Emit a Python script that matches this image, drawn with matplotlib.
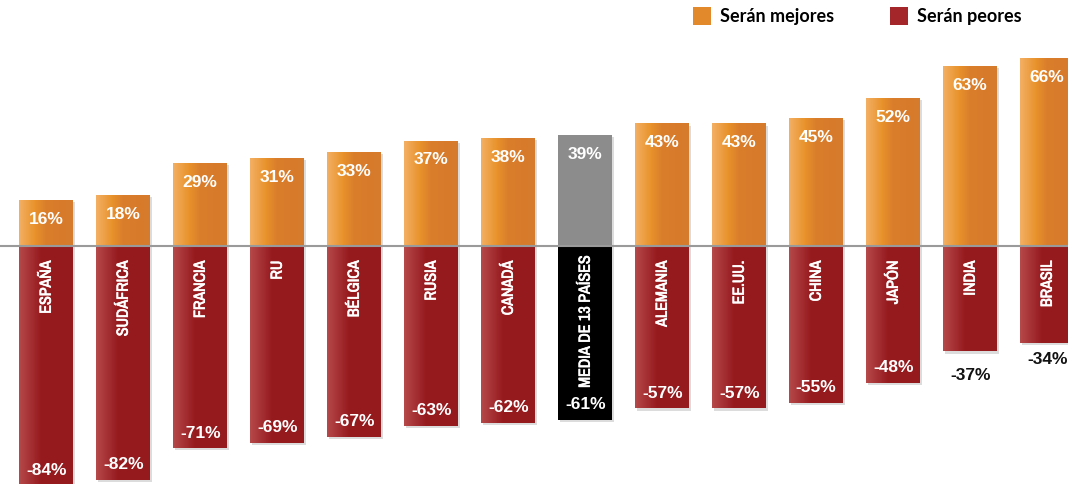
import numpy as np
import matplotlib.pyplot as plt
from matplotlib import font_manager as fm
from matplotlib.colors import LinearSegmentedColormap
from matplotlib.patches import Patch
import matplotlib.patheffects as pe

paises = ["ESPAÑA", "SUDÁFRICA", "FRANCIA", "RU", "BÉLGICA", "RUSIA", "CANADÁ",
          "MEDIA DE 13 PAÍSES", "ALEMANIA", "EE.UU.", "CHINA", "JAPÓN", "INDIA", "BRASIL"]
mejores = [16, 18, 29, 31, 33, 37, 38, 39, 43, 43, 45, 52, 63, 66]
peores = [-84, -82, -71, -69, -67, -63, -62, -61, -57, -57, -55, -48, -37, -34]
media_idx = 7

# buscar una fuente estrecha para los nombres de países
fuentes = fm.fontManager.ttflist
estrechas = sorted({f.name for f in fuentes if "Condensed" in f.name or "Narrow" in f.name})
efecto_pais = None
if estrechas:
    nombre = estrechas[0]
    hay_negrita = any(f.name == nombre and f.weight in ("bold", 700, "heavy", 800, 600, "semibold")
                      for f in fuentes)
    fuente_pais = dict(family=[nombre, "DejaVu Sans"], fontweight="bold", fontsize=11.5)
    if not hay_negrita:
        efecto_pais = [pe.withStroke(linewidth=0.5, foreground="white")]
else:
    fuente_pais = dict(family=["Roboto", "DejaVu Sans"], fontweight="bold", fontsize=10.5)

naranja = LinearSegmentedColormap.from_list(
    "nar", [(0, "#F3B063"), (0.3, "#E8922A"), (0.5, "#DA7E2C"), (1, "#D67A2B")])
rojo = LinearSegmentedColormap.from_list(
    "roj", [(0, "#B6494A"), (0.4, "#961B1F"), (1, "#941A1E")])
grad = np.linspace(0, 1, 256).reshape(1, -1)

fig = plt.figure(figsize=(10.68, 4.84), dpi=100)
ax = fig.add_axes([0, 0, 1, 1])
ax.set_xlim(-0.6, 13.27)
ax.set_ylim(-83.5, 86.3)
ax.axis("off")

x = np.arange(len(paises))
w = 0.7
sombra = [pe.SimplePatchShadow(offset=(1.5, -1.5), alpha=0.25, shadow_rgbFace="#777777"), pe.Normal()]

for i in x:
    for val, cmap, solid in ((mejores[i], naranja, "#8C8C8C"), (peores[i], rojo, "#000000")):
        if i == media_idx:
            ax.bar(i, val, width=w, color=solid, zorder=2, path_effects=sombra)
        else:
            b = ax.bar(i, val, width=w, color="#ffffff", edgecolor="none", zorder=2,
                       path_effects=sombra)[0]
            im = ax.imshow(grad, cmap=cmap, aspect="auto", zorder=3,
                           extent=[i - w / 2, i + w / 2, min(0, val), max(0, val)])
            im.set_clip_path(b)

ax.axhline(0, color="#9A9A9A", lw=1.5, zorder=4)

num_font = dict(family=["Liberation Sans", "DejaVu Sans"], fontweight="bold", fontsize=12.5)
for i in x:
    ax.annotate(f"{mejores[i]}%", (i, mejores[i]), xytext=(0, -14), textcoords="offset points",
                ha="center", va="center", color="white", zorder=5, **num_font)
    if abs(peores[i]) < 40:
        ax.annotate(f"{peores[i]}%", (i, peores[i]), xytext=(0, -12 if i == 13 else -17),
                    textcoords="offset points", ha="center", va="center",
                    color="#111111", zorder=5, annotation_clip=False, **num_font)
    else:
        ax.annotate(f"{peores[i]}%", (i, peores[i]), xytext=(0, 11), textcoords="offset points",
                    ha="center", va="center", color="white", zorder=5,
                    annotation_clip=False, **num_font)
    ax.annotate(paises[i], (i, 0), xytext=(0, -10.5 if i != media_idx else -7),
                textcoords="offset points", rotation=90, ha="center", va="top",
                color="white", zorder=5, path_effects=efecto_pais, **fuente_pais)

handles = [Patch(facecolor="#E28A2B", label="Serán mejores"),
           Patch(facecolor="#A5262A", label="Serán peores")]
fig.legend(handles=handles, loc="upper right", bbox_to_anchor=(0.972, 1.02), ncol=2,
           frameon=False, handlelength=1.0, handleheight=1.2, columnspacing=3.1,
           handletextpad=0.5, prop=dict(family=["Lato", "DejaVu Sans"], weight="bold", size=13))

fig.savefig("out.png", dpi=100)
